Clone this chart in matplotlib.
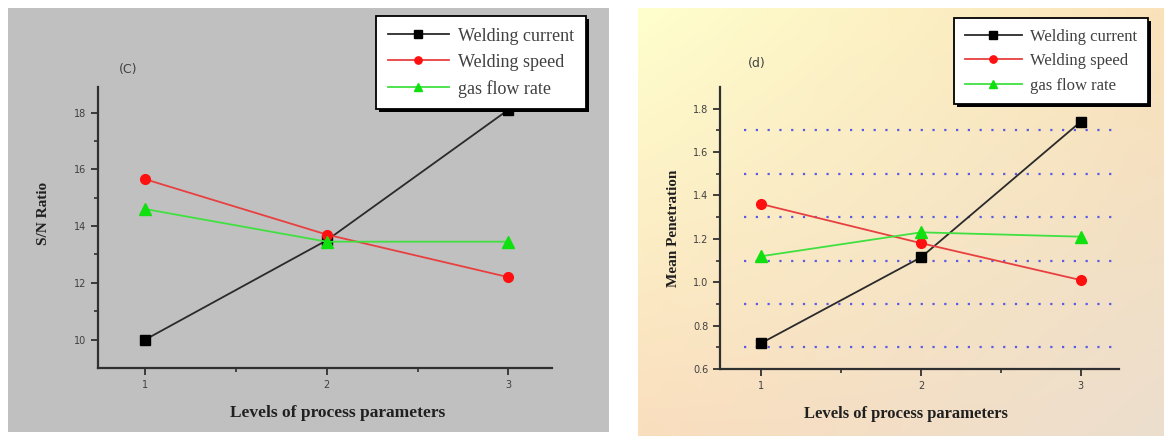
import numpy as np
import matplotlib.pyplot as plt
from matplotlib.patches import Rectangle

W, H = 1164, 436

levels = [1, 2, 3]
series_names = ['Welding current', 'Welding speed', 'gas flow rate']

# (c) S/N ratio
sn_current = [10.0, 13.5, 18.1]
sn_speed = [15.65, 13.7, 12.2]
sn_gas = [14.6, 13.45, 13.45]

# (d) mean penetration
mp_current = [0.72, 1.115, 1.74]
mp_speed = [1.36, 1.18, 1.01]
mp_gas = [1.12, 1.23, 1.21]
mp_grid = [0.7, 0.9, 1.1, 1.3, 1.5, 1.7]

line_cols = ['#2a2a2a', '#e84040', '#40e040']
mark_cols = ['black', '#ff1010', '#10e010']
markers = ['s', 'o', '^']
msizes = [7, 7, 8]

def fx(px):
    return px / W

def fy(py):
    return 1 - py / H

fig = plt.figure(figsize=(W / 100, H / 100), dpi=100)
fig.patch.set_facecolor('white')

# left panel grey background
fig.patches.append(Rectangle((fx(8), fy(432)), fx(609) - fx(8), fy(8) - fy(432),
                             transform=fig.transFigure, facecolor='#c0c0c0',
                             edgecolor='none', zorder=-10))

# right panel gradient background
bg = fig.add_axes([fx(638), fy(436), fx(1164) - fx(638), fy(8) - fy(436)], zorder=-10)
tl = np.array([255, 255, 205]) / 255
tr = np.array([250, 226, 186]) / 255
bl = np.array([250, 222, 190]) / 255
br = np.array([236, 222, 206]) / 255
u = np.linspace(0, 1, 200)[None, :, None]
v = np.linspace(0, 1, 200)[:, None, None]
img = (1 - u) * (1 - v) * tl + u * (1 - v) * tr + (1 - u) * v * bl + u * v * br
bg.imshow(img, aspect='auto', extent=[0, 1, 0, 1])
bg.axis('off')


def style_axes(ax):
    ax.set_facecolor('none')
    for s in ['top', 'right']:
        ax.spines[s].set_visible(False)
    for s in ['left', 'bottom']:
        ax.spines[s].set_linewidth(1.6)
        ax.spines[s].set_color('#303030')
    ax.tick_params(which='major', direction='out', length=5, width=1.3,
                   labelsize=7, colors='#303030', labelcolor='#404040')
    ax.tick_params(which='minor', direction='out', length=3, width=1.2, colors='#303030')
    ax.set_xticks(levels)
    ax.set_xticks([1.5, 2.5], minor=True)
    ax.set_xlim(0.74, 3.24)


def draw_series(ax, data):
    for vals, name, lc, mc, mk, ms in zip(data, series_names, line_cols, mark_cols, markers, msizes):
        ax.plot(levels, vals, color=lc, lw=1.3, marker=mk, markersize=ms,
                markerfacecolor=mc, markeredgecolor=mc, label=name)


def add_legend(ax, right_px, top_px, size):
    leg = ax.legend(loc='upper right', bbox_to_anchor=(fx(right_px), fy(top_px)),
                    bbox_transform=fig.transFigure, frameon=True, fancybox=False,
                    shadow={'color': 'black', 'alpha': 1, 'linewidth': 0},
                    framealpha=1, edgecolor='black', facecolor='white',
                    handlelength=3.4, handletextpad=0.5, labelspacing=0.5,
                    borderpad=0.65, borderaxespad=0, markerscale=0.75,
                    prop={'family': 'Liberation Serif', 'size': size})
    leg.get_frame().set_linewidth(1.3)
    for t in leg.get_texts():
        t.set_color('#404040')
    return leg


# ---- panel (c)
ax1 = fig.add_axes([fx(98), fy(368), fx(552) - fx(98), fy(87) - fy(368)])
style_axes(ax1)
draw_series(ax1, [sn_current, sn_speed, sn_gas])
ax1.set_ylim(9.0, 18.9)
ax1.set_yticks([10, 12, 14, 16, 18])
ax1.set_yticks([11, 13, 15, 17], minor=True)
ax1.set_ylabel('S/N Ratio', fontsize=11, fontweight='bold', family='Liberation Serif', color='#202020')
ax1.yaxis.set_label_coords(-0.105, 0.55)
ax1.set_xlabel('Levels of process parameters', fontsize=12.5, fontweight='bold',
               family='Liberation Serif', color='#202020')
ax1.xaxis.set_label_coords(0.527, -0.13)
fig.text(fx(128), fy(70), '(C)', fontsize=9, color='#404040', ha='center', va='center')
add_legend(ax1, 586, 16, 13)

# ---- panel (d)
ax2 = fig.add_axes([fx(720), fy(369), fx(1119) - fx(720), fy(87) - fy(369)])
style_axes(ax2)
ax2.hlines(mp_grid, 0.89, 3.24, colors='#5a5ae6', lw=1.6, linestyles=(0, (1, 4.3)), zorder=1)
draw_series(ax2, [mp_current, mp_speed, mp_gas])
ax2.set_ylim(0.6, 1.9)
ax2.set_yticks([0.6, 0.8, 1.0, 1.2, 1.4, 1.6, 1.8])
ax2.set_yticks(mp_grid, minor=True)
ax2.yaxis.set_major_formatter(plt.FormatStrFormatter('%.1f'))
ax2.set_ylabel('Mean Penetration', fontsize=11, fontweight='bold', family='Liberation Serif', color='#202020')
ax2.yaxis.set_label_coords(-0.10, 0.5)
ax2.set_xlabel('Levels of process parameters', fontsize=12, fontweight='bold',
               family='Liberation Serif', color='#202020')
ax2.xaxis.set_label_coords(0.466, -0.13)
fig.text(fx(757), fy(63), '(d)', fontsize=9, color='#404040', ha='center', va='center')
add_legend(ax2, 1148, 18, 12)

fig.savefig('out.png', dpi=100)
